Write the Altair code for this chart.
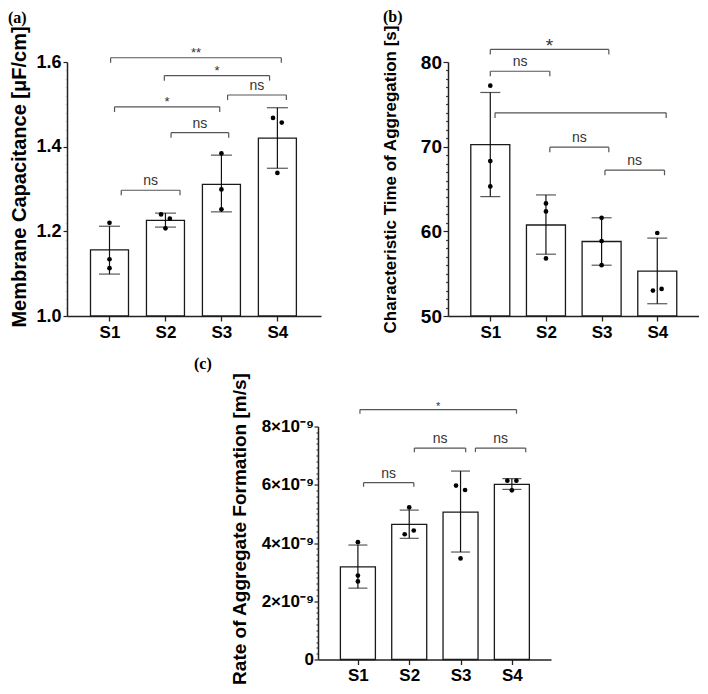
import altair as alt
import pandas as pd

FONT = "Liberation Sans"
SERIF = "Liberation Serif"

categories = ["S1", "S2", "S3", "S4"]

# (a) Membrane capacitance [uF/cm]
a_mean = [1.156, 1.226, 1.311, 1.420]
a_low = [1.099, 1.210, 1.246, 1.349]
a_high = [1.212, 1.243, 1.380, 1.492]
a_points = [[1.220, 1.134, 1.113], [1.240, 1.230, 1.207], [1.384, 1.299, 1.252], [1.468, 1.457, 1.338]]
a_slots = [[0, 0, 0], [-1, 1, 0], [0, 0, 0], [-1, 1, 0]]
a_br_from = [1.02, 1.98, 3.11, 1.09, 2.10, 1.21]
a_br_to = [4.07, 3.86, 4.16, 2.97, 3.13, 2.26]
a_br_y = [1.610, 1.568, 1.522, 1.494, 1.433, 1.297]
a_br_text = ["**", "*", "ns", "*", "ns", "ns"]

# (b) Characteristic time of aggregation [s]
b_mean = [70.25, 60.75, 58.8, 55.3]
b_low = [64.1, 57.3, 56.0, 51.45]
b_high = [76.4, 64.3, 61.6, 59.2]
b_points = [[77.2, 68.3, 65.3], [63.3, 62.35, 56.8], [61.6, 58.85, 56.0], [59.8, 53.0, 53.2]]
b_slots = [[0, 0, 0], [0, 0, 0], [0, 0, 0], [0, -1, 1]]
b_br_from = [1.0, 1.0, 1.085, 2.07, 3.06]
b_br_to = [3.13, 2.07, 4.16, 3.13, 4.13]
b_br_y = [81.48, 78.91, 74.0, 69.94, 67.22]
b_br_text = ["*", "ns", "", "ns", "ns"]

# (c) Rate of aggregate formation [m/s]
c_mean = [3.18e-9, 4.64e-9, 5.06e-9, 6.01e-9]
c_low = [2.45e-9, 4.16e-9, 3.69e-9, 5.84e-9]
c_high = [3.93e-9, 5.13e-9, 6.47e-9, 6.21e-9]
c_points = [[4.03e-9, 2.88e-9, 2.68e-9], [5.22e-9, 4.43e-9, 4.30e-9],
            [5.97e-9, 5.82e-9, 3.47e-9], [6.14e-9, 6.14e-9, 5.81e-9]]
c_slots = [[0, 0, 0], [0, 1, -1], [-1, 1, 0], [-1, 1, 0]]
c_br_from = [1.04, 2.10, 3.29, 1.11]
c_br_to = [4.09, 3.10, 4.27, 2.09]
c_br_y = [8.58e-9, 7.26e-9, 7.26e-9, 6.07e-9]
c_br_text = ["*", "ns", "ns", "ns"]

# axis tick positions (major + minor)
a_ticks = [round(1.0 + 0.02 * i, 2) for i in range(31)]
b_ticks = list(range(50, 81))
c_ticks = [i * 2e-10 for i in range(41)]

cat_arr = "[" + ",".join("'%s'" % c for c in categories) + "]"


def panel(mean, low, high, points, slots, bf, bt, by, bl, *, ydom, xdom, w, h,
          bar_w, cap_w, drop, jit, ytitle, ytitle_size, ytitle_x, ytitle_y,
          ylabel_size, yvalues, major_test, label_expr, minor_color,
          tick_major, tick_minor, ylabel_pad, star_size, star_dy, letter,
          letter_dx, letter_dy):
    xs = list(range(1, len(categories) + 1))
    bdf = pd.DataFrame({"x": xs, "cat": categories, "mean": mean, "low": low, "high": high})
    prow = []
    for i, (vals, sl) in enumerate(zip(points, slots)):
        for v, s in zip(vals, sl):
            prow.append({"x": xs[i], "v": v, "slot": s})
    pdf = pd.DataFrame(prow)
    brdf = pd.DataFrame({"x1": bf, "x2": bt, "y": by, "label": bl})

    xscale = alt.Scale(domain=xdom, nice=False, zero=False)
    yscale = alt.Scale(domain=ydom, nice=False, zero=False)
    xaxis = alt.Axis(values=xs, labelExpr=cat_arr + "[datum.value - 1]", grid=False,
                     domainColor="#222", domainWidth=1.5, tickColor="#222", tickSize=5,
                     tickWidth=1.3, labelFont=FONT, labelFontSize=17, labelFontWeight="bold",
                     labelColor="black", labelPadding=3)
    yaxis = alt.Axis(values=yvalues, labelExpr=label_expr, labelOverlap=False, grid=False,
                     domainColor="#222", domainWidth=1.5,
                     tickColor={"condition": {"test": major_test, "value": "#222"}, "value": minor_color},
                     tickSize={"condition": {"test": major_test, "value": tick_major}, "value": tick_minor},
                     tickWidth=1.2, labelFont=FONT, labelFontSize=ylabel_size,
                     labelFontWeight="bold", labelColor="black", labelPadding=ylabel_pad,
                     titleFont=FONT, titleFontSize=ytitle_size, titleFontWeight="bold",
                     titleColor="black", titleX=ytitle_x, titleY=ytitle_y,
                     titleBaseline="top", titleAlign="center", titleAngle=270)

    def X(f="x"):
        return alt.X(f"{f}:Q", scale=xscale, axis=xaxis, title=None)

    def Y(f):
        return alt.Y(f"{f}:Q", scale=yscale, axis=yaxis, title=ytitle)

    bars = alt.Chart(bdf).mark_bar(size=bar_w, fill="white", stroke="#1a1a1a", strokeWidth=1.3).encode(
        x=X(), y=Y("mean"), y2=alt.datum(ydom[0]))
    errs = alt.Chart(bdf).mark_rule(color="#111", strokeWidth=1.2).encode(
        x=X(), y=Y("low"), y2="high:Q")
    caps = alt.Chart(bdf).transform_fold(["low", "high"], as_=["k", "v"]).mark_tick(
        orient="horizontal", size=cap_w, thickness=1.2, color="#111").encode(x=X(), y=Y("v"))
    pts = alt.Chart(pdf).transform_calculate(xj=f"datum.x + datum.slot * {jit}").mark_circle(
        size=22, color="black", opacity=1).encode(x=X("xj"), y=Y("v"))
    br = alt.Chart(brdf).mark_rule(color="#555", strokeWidth=1.2).encode(
        x=X("x1"), x2="x2:Q", y=Y("y"))
    legs = alt.Chart(brdf).transform_fold(["x1", "x2"], as_=["side", "xx"]).transform_calculate(
        yd=f"datum.y - {drop}").mark_rule(color="#555", strokeWidth=1.2).encode(
        x=X("xx"), y=Y("y"), y2="yd:Q")
    ns = alt.Chart(brdf).transform_filter("datum.label == 'ns'").transform_calculate(
        xm="(datum.x1 + datum.x2) / 2").mark_text(
        font=FONT, fontSize=14, color="#333", baseline="alphabetic", dy=-5).encode(
        x=X("xm"), y=Y("y"), text="label:N")
    stars = alt.Chart(brdf).transform_filter("datum.label != 'ns'").transform_calculate(
        xm="(datum.x1 + datum.x2) / 2").mark_text(
        font=FONT, fontSize=star_size, color="#333", baseline="alphabetic", dy=star_dy).encode(
        x=X("xm"), y=Y("y"), text="label:N")
    return alt.layer(bars, errs, caps, pts, br, legs, ns, stars).properties(
        width=w, height=h,
        title=alt.TitleParams(text=letter, anchor="start", frame="group", font=SERIF,
                              fontSize=16, fontWeight="bold", color="black",
                              dx=letter_dx, dy=letter_dy, offset=0))


pa = panel(a_mean, a_low, a_high, a_points, a_slots, a_br_from, a_br_to, a_br_y, a_br_text,
           ydom=[1.0, 1.6], xdom=[0.33, 4.69], w=254, h=254, bar_w=38, cap_w=21, drop=0.012,
           jit=0.078, ytitle="Membrane Capacitance [\u03bcF/cm]", ytitle_size=20,
           ytitle_x=-58, ytitle_y=114.5, ylabel_size=18, yvalues=a_ticks,
           major_test="abs(datum.value * 5 - round(datum.value * 5)) < 1e-6",
           label_expr="abs(datum.value * 5 - round(datum.value * 5)) < 1e-6 ? format(datum.value, '.1f') : ''",
           minor_color="#ddd", tick_major=4, tick_minor=2, ylabel_pad=2,
           star_size=13, star_dy=-1, letter="(a)", letter_dx=-59, letter_dy=0)

pb = panel(b_mean, b_low, b_high, b_points, b_slots, b_br_from, b_br_to, b_br_y, b_br_text,
           ydom=[50, 80], xdom=[0.33, 4.66], w=251, h=254, bar_w=39, cap_w=20, drop=0.6,
           jit=0.078, ytitle="Characteristic Time of Aggregation [s]", ytitle_size=17,
           ytitle_x=-66, ytitle_y=117, ylabel_size=19, yvalues=b_ticks,
           major_test="datum.value % 10 == 0",
           label_expr="datum.value % 10 == 0 ? format(datum.value, 'd') : ''",
           minor_color="#444", tick_major=5, tick_minor=2.5, ylabel_pad=1.5,
           star_size=19, star_dy=2.5, letter="(b)", letter_dx=-65, letter_dy=0)

pc = panel(c_mean, c_low, c_high, c_points, c_slots, c_br_from, c_br_to, c_br_y, c_br_text,
           ydom=[0, 8e-9], xdom=[0.32, 4.665], w=233, h=233, bar_w=35, cap_w=19, drop=0.14e-9,
           jit=0.088, ytitle="Rate of Aggregate Formation [m/s]", ytitle_size=19,
           ytitle_x=-88, ytitle_y=102, ylabel_size=17, yvalues=c_ticks,
           major_test="abs(datum.value * 5e8 - round(datum.value * 5e8)) < 1e-6",
           label_expr="abs(datum.value * 5e8 - round(datum.value * 5e8)) < 1e-6 ? (datum.value < 1e-12 ? '0' : format(round(datum.value * 1e9), 'd') + '\u00d710\u207b\u2079') : ''",
           minor_color="#444", tick_major=4, tick_minor=2, ylabel_pad=0.5,
           star_size=11, star_dy=0, letter="(c)", letter_dx=-124, letter_dy=0)

# invisible spacer that shifts the bottom panel to the right
spacer = alt.Chart(pd.DataFrame({"s": [0], "t": [1]})).mark_rule(opacity=0).encode(
    x=alt.X("s:Q", axis=None, scale=alt.Scale(domain=[0, 1])),
    y=alt.Y("s:Q", axis=None, scale=alt.Scale(domain=[0, 1])), y2="t:Q"
).properties(width=251, height=10)

row1 = alt.hconcat(pa, pb, spacing=127, bounds="flush")
row2 = alt.hconcat(spacer, pc, spacing=0, bounds="flush")
chart = alt.vconcat(row1, row2, spacing=15.5, bounds="full").properties(
    padding=0, background="white").configure_view(stroke=None)

chart.save("out.html", embed_options={"renderer": "svg", "actions": False})
